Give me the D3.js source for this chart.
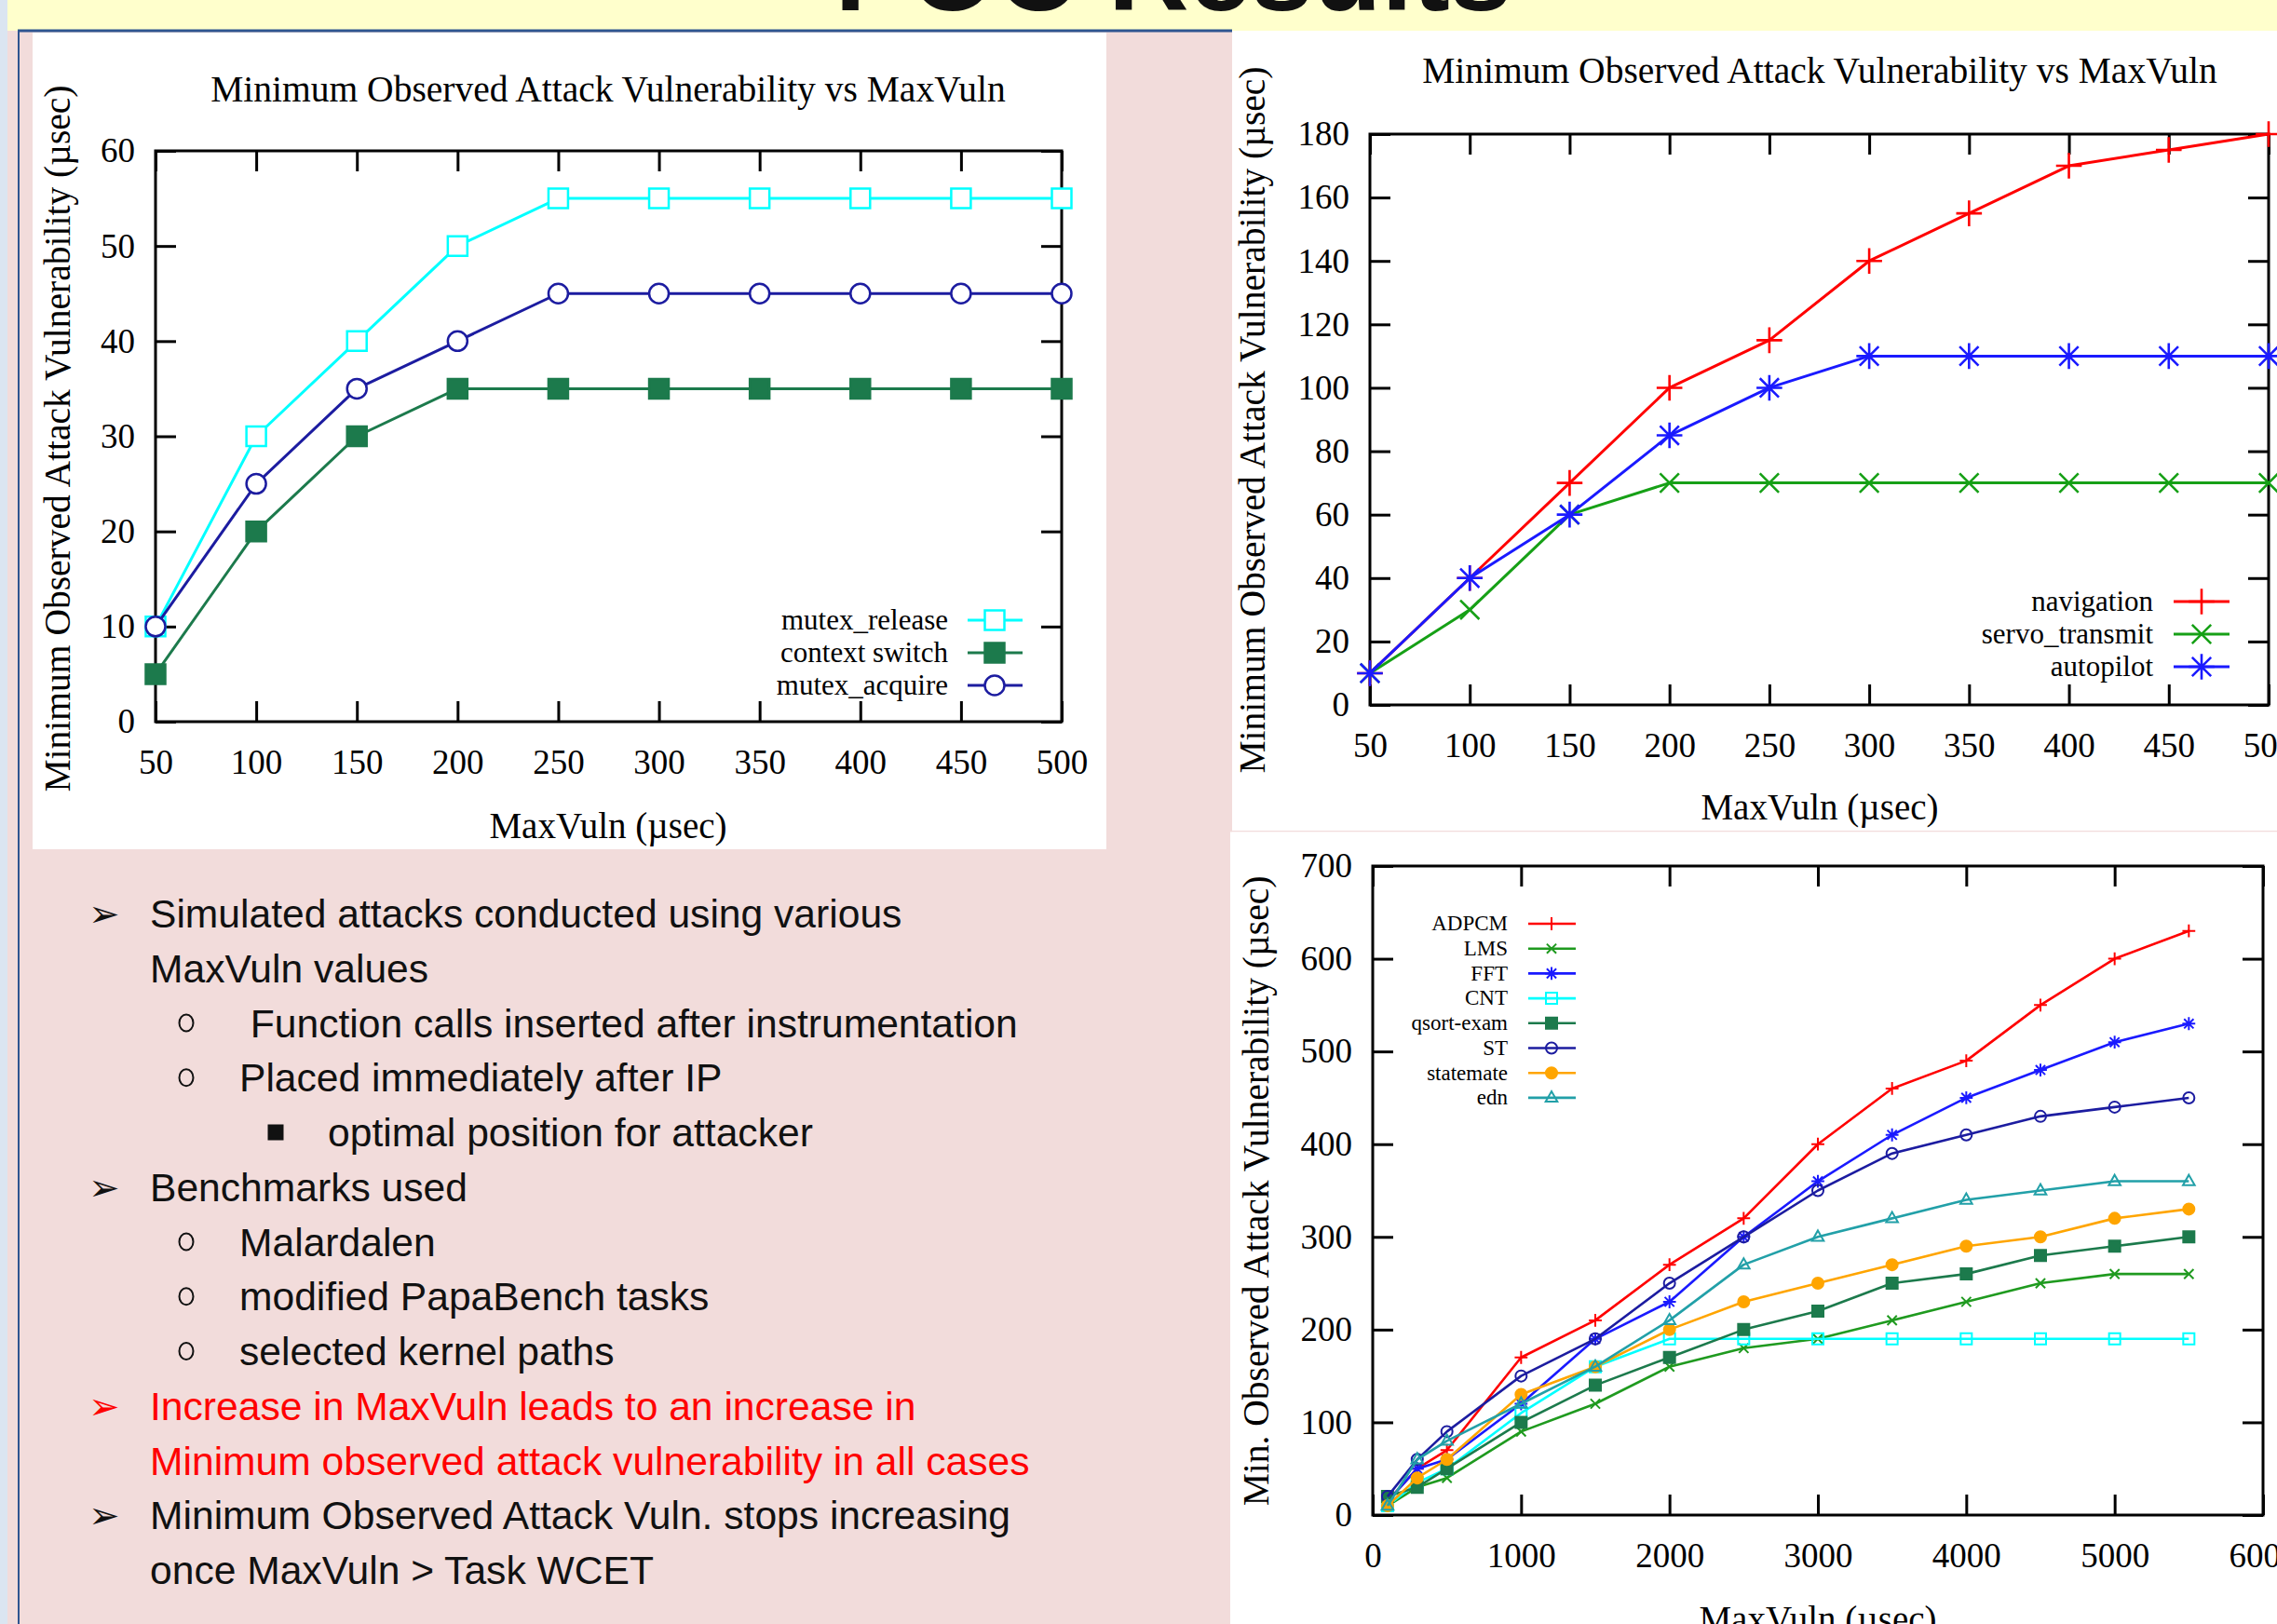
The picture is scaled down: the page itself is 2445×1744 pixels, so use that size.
<!DOCTYPE html>
<html>
<head>
<meta charset="utf-8">
<script src="https://cdn.jsdelivr.net/npm/d3@7"></script>
<style>
  html, body { margin: 0; padding: 0; background: #fff; }
  svg { display: block; }
</style>
</head>
<body>
<svg id="slide" width="2445" height="1744"></svg>
<script>
// ---- slide text ----
const slideTitle = 'POC Results';
const chartTitle = 'Minimum Observed Attack Vulnerability vs MaxVuln';
const xAxisLabel = 'MaxVuln (µsec)';
const yAxisLabel = 'Minimum Observed Attack Vulnerability (µsec)';
const yAxisLabelShort = 'Min. Observed Attack Vulnerability (µsec)';

// ---- chart 1 : kernel paths ----
const c1MaxVuln = [50, 100, 150, 200, 250, 300, 350, 400, 450, 500];
const c1MutexRelease = [10, 30, 40, 50, 55, 55, 55, 55, 55, 55];
const c1ContextSwitch = [5, 20, 30, 35, 35, 35, 35, 35, 35, 35];
const c1MutexAcquire = [10, 25, 35, 40, 45, 45, 45, 45, 45, 45];
const c1XTicks = [50, 100, 150, 200, 250, 300, 350, 400, 450, 500];
const c1YTicks = [0, 10, 20, 30, 40, 50, 60];

// ---- chart 2 : PapaBench tasks ----
const c2MaxVuln = [50, 100, 150, 200, 250, 300, 350, 400, 450, 500];
const c2Navigation = [10, 40, 70, 100, 115, 140, 155, 170, 175, 180];
const c2ServoTransmit = [10, 30, 60, 70, 70, 70, 70, 70, 70, 70];
const c2Autopilot = [10, 40, 60, 85, 100, 110, 110, 110, 110, 110];
const c2XTicks = [50, 100, 150, 200, 250, 300, 350, 400, 450, 500];
const c2YTicks = [0, 20, 40, 60, 80, 100, 120, 140, 160, 180];

// ---- chart 3 : Malardalen ----
const c3MaxVuln = [100, 300, 500, 1000, 1500, 2000, 2500, 3000, 3500, 4000, 4500, 5000, 5500];
const c3ADPCM = [15, 50, 70, 170, 210, 270, 320, 400, 460, 490, 550, 600, 630];
const c3LMS = [10, 30, 40, 90, 120, 160, 180, 190, 210, 230, 250, 260, 260];
const c3FFT = [15, 50, 60, 120, 190, 230, 300, 360, 410, 450, 480, 510, 530];
const c3CNT = [10, 35, 50, 110, 160, 190, 190, 190, 190, 190, 190, 190, 190];
const c3Qsort = [20, 30, 50, 100, 140, 170, 200, 220, 250, 260, 280, 290, 300];
const c3ST = [20, 60, 90, 150, 190, 250, 300, 350, 390, 410, 430, 440, 450];
const c3Statemate = [10, 40, 60, 130, 160, 200, 230, 250, 270, 290, 300, 320, 330];
const c3Edn = [10, 60, 80, 120, 160, 210, 270, 300, 320, 340, 350, 360, 360];
const c3XTicks = [0, 1000, 2000, 3000, 4000, 5000, 6000];
const c3YTicks = [0, 100, 200, 300, 400, 500, 600, 700];

// ---- bullet list ----
const bulletLines = [
  { level: 0, bullet: true,  red: false, text: 'Simulated attacks conducted using various' },
  { level: 0, bullet: false, red: false, text: 'MaxVuln values' },
  { level: 1, bullet: true,  red: false, text: ' Function calls inserted after instrumentation' },
  { level: 1, bullet: true,  red: false, text: 'Placed immediately after IP' },
  { level: 2, bullet: true,  red: false, text: 'optimal position for attacker' },
  { level: 0, bullet: true,  red: false, text: 'Benchmarks used' },
  { level: 1, bullet: true,  red: false, text: 'Malardalen' },
  { level: 1, bullet: true,  red: false, text: 'modified PapaBench tasks' },
  { level: 1, bullet: true,  red: false, text: 'selected kernel paths' },
  { level: 0, bullet: true,  red: true,  text: 'Increase in MaxVuln leads to an increase in' },
  { level: 0, bullet: false, red: true,  text: 'Minimum observed attack vulnerability in all cases' },
  { level: 0, bullet: true,  red: false, text: 'Minimum Observed Attack Vuln. stops increasing' },
  { level: 0, bullet: false, red: false, text: 'once MaxVuln > Task WCET' }
];

const SERIF = '"Liberation Serif", "Times New Roman", Times, serif';
const SANS = '"Liberation Sans", Arial, Helvetica, sans-serif';
const W = 2445, H = 1744;
const svg = d3.select('#slide');

// ---- slide background ----
svg.append('rect').attr('width', W).attr('height', H).attr('fill', '#ffffff');
svg.append('rect').attr('x', 0).attr('y', 0).attr('width', 8).attr('height', H).attr('fill', '#dbe5f1');
svg.append('rect').attr('x', 8).attr('y', 0).attr('width', W - 8).attr('height', 33).attr('fill', '#ffffcc');
svg.append('text')
  .attr('x', 1260).attr('y', 11)
  .attr('text-anchor', 'middle')
  .attr('font-family', SANS).attr('font-weight', 'bold').attr('font-size', 120)
  .attr('fill', '#111')
  .text(slideTitle);

// left panel
svg.append('rect').attr('x', 8).attr('y', 33).attr('width', 1315).attr('height', H - 33).attr('fill', '#f2dcdb');
svg.append('line').attr('x1', 19).attr('x2', 1323).attr('y1', 33).attr('y2', 33)
  .attr('stroke', '#2f5590').attr('stroke-width', 3);
svg.append('line').attr('x1', 20).attr('x2', 20).attr('y1', 33).attr('y2', H)
  .attr('stroke', '#2f5590').attr('stroke-width', 2);

// chart picture backgrounds
svg.append('rect').attr('x', 35).attr('y', 35).attr('width', 1153).attr('height', 877).attr('fill', '#fff');
svg.append('rect').attr('x', 1323).attr('y', 33).attr('width', W - 1323).attr('height', 859).attr('fill', '#fff');
svg.append('rect').attr('x', 1321).attr('y', 892).attr('width', W - 1321).attr('height', 1.5).attr('fill', '#f2dcdb');
svg.append('rect').attr('x', 1321).attr('y', 893.5).attr('width', W - 1321).attr('height', H - 893).attr('fill', '#fff');

// ---- marker shapes (gnuplot point types) ----
function symbolPath(type, s) {
  const p = s * 1.15, c = s * 0.85;
  switch (type) {
    case 'plus': return `M${-p},0H${p}M0,${-p}V${p}`;
    case 'cross': return `M${-c},${-c}L${c},${c}M${-c},${c}L${c},${-c}`;
    case 'star': return `M${-p},0H${p}M0,${-p}V${p}M${-c},${-c}L${c},${c}M${-c},${c}L${c},${-c}`;
    case 'square':
    case 'squareFill': return `M${-s},${-s}H${s}V${s}H${-s}Z`;
    case 'circle':
    case 'circleFill': return `M${s},0A${s},${s} 0 1,1 ${-s},0A${s},${s} 0 1,1 ${s},0Z`;
    case 'triangle': return `M0,${-s * 1.15}L${s * 1.05},${s * 0.7}L${-s * 1.05},${s * 0.7}Z`;
  }
  return '';
}

function markerFill(type, color, openFill) {
  if (type === 'squareFill' || type === 'circleFill') return color;
  if (type === 'square' || type === 'circle' || type === 'triangle') return openFill;
  return 'none';
}

function drawChart(cfg) {
  const g = svg.append('g');
  const x = d3.scaleLinear().domain(cfg.xDomain).range([cfg.left, cfg.right]);
  const y = d3.scaleLinear().domain(cfg.yDomain).range([cfg.bottom, cfg.top]);
  const tk = 22;

  const axes = [
    { gen: d3.axisBottom(x).tickValues(cfg.xTicks).tickFormat(d3.format('d')).tickPadding(30), t: `translate(0,${cfg.bottom})` },
    { gen: d3.axisTop(x).tickValues(cfg.xTicks).tickFormat(''), t: `translate(0,${cfg.top})` },
    { gen: d3.axisLeft(y).tickValues(cfg.yTicks).tickFormat(d3.format('d')).tickPadding(22), t: `translate(${cfg.left},0)` },
    { gen: d3.axisRight(y).tickValues(cfg.yTicks).tickFormat(''), t: `translate(${cfg.right},0)` }
  ];
  axes.forEach(a => {
    const ag = g.append('g').attr('transform', a.t).call(a.gen.tickSize(-tk));
    ag.select('.domain').remove();
    ag.selectAll('.tick line').attr('stroke', '#000').attr('stroke-width', 3);
    ag.selectAll('.tick text').attr('fill', '#000');
    ag.attr('font-family', SERIF).attr('font-size', 37);
  });

  g.append('rect')
    .attr('x', cfg.left).attr('y', cfg.top)
    .attr('width', cfg.right - cfg.left).attr('height', cfg.bottom - cfg.top)
    .attr('fill', 'none').attr('stroke', '#000').attr('stroke-width', 3);

  if (cfg.title) {
    g.append('text').attr('x', cfg.title.x).attr('y', cfg.title.y)
      .attr('text-anchor', 'middle').attr('font-family', SERIF).attr('font-size', 39.5)
      .text(cfg.title.text);
  }
  g.append('text').attr('x', cfg.xLabel.x).attr('y', cfg.xLabel.y)
    .attr('text-anchor', 'middle').attr('font-family', SERIF).attr('font-size', 39)
    .text(cfg.xLabel.text);
  g.append('text')
    .attr('transform', `translate(${cfg.yLabel.x},${cfg.yLabel.y}) rotate(-90)`)
    .attr('text-anchor', 'middle').attr('font-family', SERIF).attr('font-size', 39.5)
    .text(cfg.yLabel.text);

  const line = d3.line().x(d => x(d[0])).y(d => y(d[1]));
  cfg.series.forEach(s => {
    const pts = cfg.xs.map((xv, i) => [xv, s.values[i]]);
    g.append('path').datum(pts)
      .attr('d', line)
      .attr('fill', 'none').attr('stroke', s.color)
      .attr('stroke-width', cfg.lineWidth).attr('stroke-linejoin', 'round');
    g.append('g').selectAll('path').data(pts).join('path')
      .attr('transform', d => `translate(${x(d[0])},${y(d[1])})`)
      .attr('d', symbolPath(s.marker, cfg.ms))
      .attr('fill', markerFill(s.marker, s.color, cfg.openFill))
      .attr('stroke', s.color).attr('stroke-width', cfg.markerWidth);
  });

  // legend
  const L = cfg.legend;
  cfg.series.forEach((s, i) => {
    const ly = L.y0 + i * L.dy;
    g.append('text').attr('x', L.textX).attr('y', ly + L.fs * 0.32)
      .attr('text-anchor', 'end').attr('font-family', SERIF).attr('font-size', L.fs)
      .text(s.name);
    g.append('line').attr('x1', L.x0).attr('x2', L.x1).attr('y1', ly).attr('y2', ly)
      .attr('stroke', s.color).attr('stroke-width', cfg.lineWidth);
    g.append('path').attr('transform', `translate(${L.mx},${ly})`)
      .attr('d', symbolPath(s.marker, cfg.ms))
      .attr('fill', markerFill(s.marker, s.color, cfg.openFill))
      .attr('stroke', s.color).attr('stroke-width', cfg.markerWidth);
  });
}

drawChart({
  left: 167, right: 1140, top: 162, bottom: 775,
  xDomain: [50, 500], yDomain: [0, 60], xTicks: c1XTicks, yTicks: c1YTicks,
  xs: c1MaxVuln,
  title: { text: chartTitle, x: 653, y: 109 },
  xLabel: { text: xAxisLabel, x: 653, y: 900 },
  yLabel: { text: yAxisLabel, x: 75, y: 471 },
  lineWidth: 3, markerWidth: 2.5, ms: 10.5, openFill: '#fff',
  series: [
    { name: 'mutex_release', values: c1MutexRelease, color: '#00ffff', marker: 'square' },
    { name: 'context switch', values: c1ContextSwitch, color: '#1c7a4c', marker: 'squareFill' },
    { name: 'mutex_acquire', values: c1MutexAcquire, color: '#1c1ca0', marker: 'circle' }
  ],
  legend: { y0: 666, dy: 35, textX: 1018, x0: 1039, x1: 1098, mx: 1068, fs: 31 }
});

drawChart({
  left: 1471, right: 2436, top: 144, bottom: 757,
  xDomain: [50, 500], yDomain: [0, 180], xTicks: c2XTicks, yTicks: c2YTicks,
  xs: c2MaxVuln,
  title: { text: chartTitle, x: 1954, y: 89 },
  xLabel: { text: xAxisLabel, x: 1954, y: 880 },
  yLabel: { text: yAxisLabel, x: 1358, y: 451 },
  lineWidth: 3, markerWidth: 2.6, ms: 12, openFill: 'none',
  series: [
    { name: 'navigation', values: c2Navigation, color: '#ff0000', marker: 'plus' },
    { name: 'servo_transmit', values: c2ServoTransmit, color: '#16a016', marker: 'cross' },
    { name: 'autopilot', values: c2Autopilot, color: '#1a1aff', marker: 'star' }
  ],
  legend: { y0: 646, dy: 35, textX: 2312, x0: 2334, x1: 2394, mx: 2364, fs: 31 }
});

drawChart({
  left: 1474, right: 2430, top: 930, bottom: 1627,
  xDomain: [0, 6000], yDomain: [0, 700], xTicks: c3XTicks, yTicks: c3YTicks,
  xs: c3MaxVuln,
  title: null,
  xLabel: { text: xAxisLabel, x: 1952, y: 1752 },
  yLabel: { text: yAxisLabelShort, x: 1362, y: 1279 },
  lineWidth: 2.6, markerWidth: 2, ms: 6, openFill: 'none',
  series: [
    { name: 'ADPCM', values: c3ADPCM, color: '#ff0000', marker: 'plus' },
    { name: 'LMS', values: c3LMS, color: '#1f9a1f', marker: 'cross' },
    { name: 'FFT', values: c3FFT, color: '#1a1aff', marker: 'star' },
    { name: 'CNT', values: c3CNT, color: '#00ffff', marker: 'square' },
    { name: 'qsort-exam', values: c3Qsort, color: '#1c7a4c', marker: 'squareFill' },
    { name: 'ST', values: c3ST, color: '#1c1ca0', marker: 'circle' },
    { name: 'statemate', values: c3Statemate, color: '#ffa500', marker: 'circleFill' },
    { name: 'edn', values: c3Edn, color: '#22a0a8', marker: 'triangle' }
  ],
  legend: { y0: 992, dy: 26.7, textX: 1619, x0: 1641, x1: 1692, mx: 1666, fs: 23 }
});

// ---- bullet list ----
const bulletX = [95, 200, 296];
const textX = [161, 257, 352];
const lineY0 = 981, lineStep = 58.75;
const list = svg.append('g').attr('font-family', SANS);
bulletLines.forEach((d, i) => {
  const cy = lineY0 + i * lineStep;
  const col = d.red ? '#ff0000' : '#111';
  if (d.bullet) {
    if (d.level === 0) {
      list.append('text').attr('x', bulletX[0]).attr('y', cy + 14)
        .attr('font-family', '"DejaVu Sans", sans-serif').attr('font-size', 40)
        .attr('fill', col).text('➢');
    } else if (d.level === 1) {
      list.append('ellipse').attr('cx', bulletX[1]).attr('cy', cy)
        .attr('rx', 7.5).attr('ry', 9).attr('fill', 'none')
        .attr('stroke', col).attr('stroke-width', 2);
    } else {
      list.append('rect').attr('x', bulletX[2] - 8.5).attr('y', cy - 8.5)
        .attr('width', 17).attr('height', 17).attr('fill', col);
    }
  }
  list.append('text').attr('x', textX[d.level]).attr('y', cy + 15)
    .attr('font-size', 42.6).attr('fill', col)
    .style('white-space', 'pre')
    .text(d.text);
});
</script>
</body>
</html>
